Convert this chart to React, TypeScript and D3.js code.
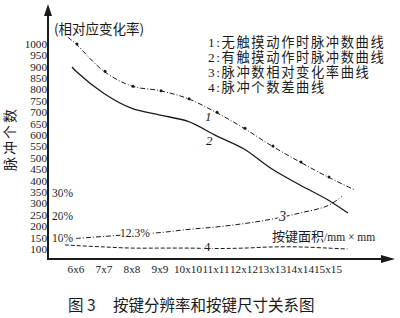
import React from "react";
import * as d3 from "d3";

const categories = ["6x6", "7x7", "8x8", "9x9", "10x10", "11x11", "12x12", "13x13", "14x14", "15x15"];
const countTicks = [100, 150, 200, 250, 300, 350, 400, 450, 500, 550, 600, 650, 700, 750, 800, 850, 900, 950, 1000];
const pctTicks = [10, 20, 30];

// series: positions are category indices (fractional at the hand-drawn ends)
const curve1Pos = [-0.29, 0, 1, 2, 3, 4, 5, 6, 7, 8, 9, 9.96];
const curve1Val = [1030, 1000, 880, 815, 795, 760, 700, 630, 552, 482, 416, 359];
const curve2Pos = [-0.14, 0, 1, 2, 3, 4, 5, 6, 7, 8, 9, 9.71];
const curve2Val = [899, 880, 783, 717, 688, 660, 598, 539, 451, 381, 315, 258];
const curve3Pos = [0, 1, 2, 3, 4, 5, 6, 7, 8, 9, 9.5];
const curve3Pct = [9.8, 10.7, 11.6, 12.4, 13.8, 14.9, 16.4, 18.4, 21.1, 24.4, 28.5];
const curve4Pos = [-0.4, 0, 1, 2, 3, 4, 5, 6, 7, 8, 9, 9.7];
const curve4Val = [118, 115, 109, 104, 104, 104, 102, 104, 109, 109, 104, 100];

const legendItems = [
  "1:无触摸动作时脉冲数曲线",
  "2:有触摸动作时脉冲数曲线",
  "3:脉冲数相对变化率曲线",
  "4:脉冲个数差曲线",
];

const SERIF = "'Liberation Serif', 'DejaVu Serif', serif";
const CJK = "'Noto Sans CJK SC', 'Noto Sans', sans-serif";
const LEGEND_FONT = "'Liberation Serif', 'Noto Sans CJK SC', serif";
const INK = "#1a1a1a";

export default function App() {
  const W = 400, H = 318;
  const axisX = 48, axisY = 259;
  const x = d3.scaleLinear().domain([0, 9]).range([76, 328]);
  const y = d3.scaleLinear().domain([100, 1000]).range([249, 44]);
  const p = d3.scaleLinear().domain([10, 30]).range([238, 193]);

  const line = (pos: number[], vals: number[], sc: d3.ScaleLinear<number, number>) =>
    d3.line<number>()
      .x((_, i) => x(pos[i]))
      .y((v) => sc(v))
      .curve(d3.curveCatmullRom.alpha(0.5))(vals) as string;

  const halo = { paintOrder: "stroke" as const, stroke: "#fff", strokeWidth: 3, strokeLinejoin: "round" as const };

  return (
    <svg width={W} height={H} style={{ position: "absolute", left: 0, top: 0, background: "#fff" }}>
      <rect width={W} height={H} fill="#fff" />
      {/* curves */}
      <path d={line(curve1Pos, curve1Val, y)} fill="none" stroke={INK} strokeWidth={1} strokeDasharray="5,2,1,2" />
      {curve1Pos.slice(1, -1).map((ps, i) => (
        <circle key={"m1" + i} cx={x(ps) + 1} cy={y(curve1Val[i + 1])} r={1.5} fill={INK} />
      ))}
      <path d={line(curve2Pos, curve2Val, y)} fill="none" stroke={INK} strokeWidth={1.3} />
      <path d={line(curve3Pos, curve3Pct, p)} fill="none" stroke={INK} strokeWidth={1} strokeDasharray="5,2,1,2" />
      <path d={line(curve4Pos, curve4Val, y)} fill="none" stroke={INK} strokeWidth={1} strokeDasharray="4,2" />

      {/* axes */}
      <line x1={axisX} y1={14} x2={axisX} y2={axisY + 1} stroke={INK} strokeWidth={2} />
      <path d={`M${axisX},4 L${axisX - 4},16 L${axisX + 4},16 Z`} fill={INK} />
      <line x1={axisX - 1} y1={axisY} x2={384} y2={axisY} stroke={INK} strokeWidth={2} />
      <path d={`M395,${axisY} L381,${axisY - 4} L381,${axisY + 4} Z`} fill={INK} />

      {/* y tick labels */}
      {countTicks.map((t) => (
        <text key={t} x={axisX - 1} y={y(t)} dy="0.35em" textAnchor="end" fontFamily={SERIF} fontSize={11.2} fill={INK}>
          {t}
        </text>
      ))}
      {/* percent labels */}
      {pctTicks.map((t) => (
        <text key={"p" + t} x={52} y={p(t)} dy="0.35em" fontFamily={SERIF} fontSize={11.5} fill={INK} style={halo}>
          {t}%
        </text>
      ))}
      {/* x tick labels */}
      {categories.map((c, i) => (
        <text key={c} x={x(i)} y={axisY + 14} textAnchor="middle" fontFamily={SERIF} fontSize={11.2} fill={INK}>
          {c}
        </text>
      ))}

      {/* titles */}
      <text x={54} y={34} fontFamily={CJK} fontSize={13.5} fill={INK}>(相对应变化率)</text>
      <text transform="translate(15,139) rotate(-90)" textAnchor="middle" fontFamily={CJK} fontSize={14} letterSpacing={2} fill={INK}>
        脉冲个数
      </text>
      {legendItems.map((s, i) => (
        <text key={s} x={208} y={47 + i * 15} fontFamily={LEGEND_FONT} fontSize={13.3} letterSpacing={1.6} fill={INK}>{s}</text>
      ))}
      <text x={272} y={241} fontFamily={CJK} fontSize={13} fill={INK}>
        按键面积<tspan fontFamily={SERIF} fontSize={11.5}>/mm × mm</tspan>
      </text>

      {/* curve annotations */}
      <text x={120} y={p(12.3)} dy="0.35em" fontFamily={SERIF} fontSize={11.5} fill={INK} style={halo}>12.3%</text>
      <text x={205} y={121} fontFamily={SERIF} fontStyle="italic" fontSize={13} fill={INK} style={halo}>1</text>
      <text x={206} y={145} fontFamily={SERIF} fontStyle="italic" fontSize={13} fill={INK} style={halo}>2</text>
      <text x={279} y={221} fontFamily={SERIF} fontStyle="italic" fontSize={14} fill={INK} style={halo}>3</text>
      <text x={204} y={251} fontFamily={SERIF} fontSize={13} fill={INK} style={halo}>4</text>

      {/* caption */}
      <text x={68} y={311} fontFamily={CJK} fontSize={15.5} fill={INK}>图 3</text>
      <text x={113} y={311} fontFamily={CJK} fontSize={15.5} fill={INK}>按键分辨率和按键尺寸关系图</text>
    </svg>
  );
}
